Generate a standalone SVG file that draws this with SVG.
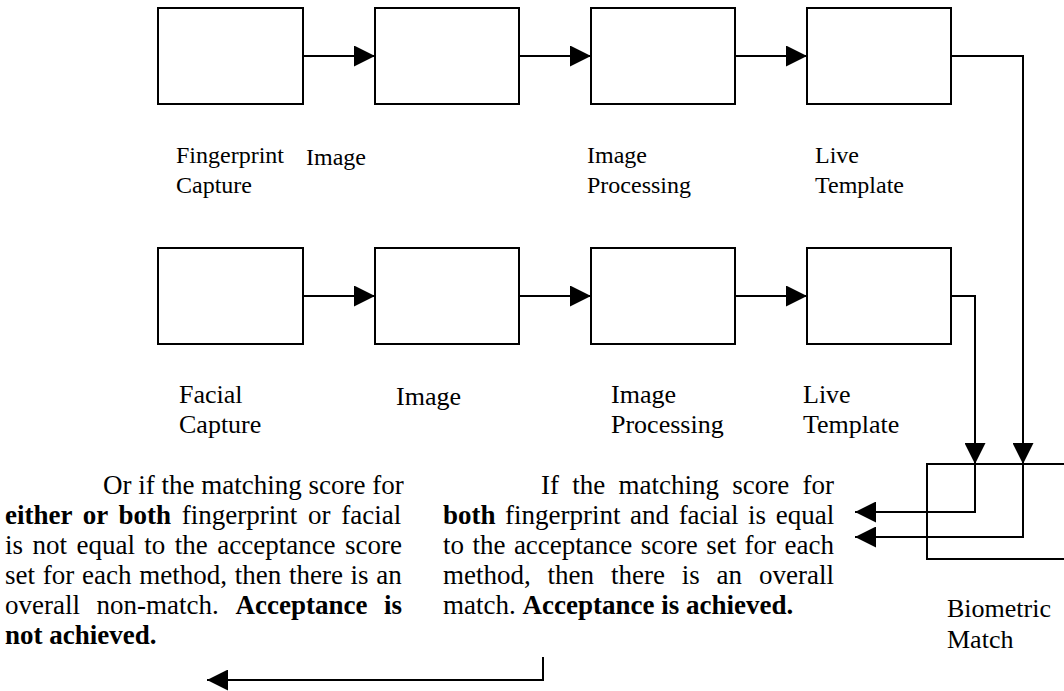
<svg xmlns="http://www.w3.org/2000/svg" width="1064" height="691" viewBox="0 0 1064 691">
<style>
.box{fill:#fff;stroke:#000;stroke-width:2}
.ln{fill:none;stroke:#000;stroke-width:2}
.lb{font-family:"Liberation Serif","Times New Roman",serif;font-size:26px;fill:#000}
.lb1{font-family:"Liberation Serif","Times New Roman",serif;font-size:24px;fill:#000}
.p{font-family:"Liberation Serif","Times New Roman",serif;font-size:27px;fill:#000}
.b{font-weight:bold}
</style>
<defs>
<marker id="ah" markerUnits="userSpaceOnUse" markerWidth="21" markerHeight="21" refX="21" refY="10.5" orient="auto">
<path d="M0,0 L21,10.5 L0,21 z" fill="#000"/>
</marker>
</defs>
<rect x="0" y="0" width="1064" height="691" fill="#fff"/>

<g id="connectors">
<line class="ln" x1="303" y1="56" x2="375" y2="56" marker-end="url(#ah)"/>
<line class="ln" x1="519" y1="56" x2="591" y2="56" marker-end="url(#ah)"/>
<line class="ln" x1="735" y1="56" x2="807" y2="56" marker-end="url(#ah)"/>
<line class="ln" x1="303" y1="296" x2="375" y2="296" marker-end="url(#ah)"/>
<line class="ln" x1="519" y1="296" x2="591" y2="296" marker-end="url(#ah)"/>
<line class="ln" x1="735" y1="296" x2="807" y2="296" marker-end="url(#ah)"/>
<polyline class="ln" points="951,56 1023,56 1023,464" marker-end="url(#ah)"/>
<polyline class="ln" points="951,296 975,296 975,464" marker-end="url(#ah)"/>
<polyline class="ln" points="975,464 975,512 855,512" marker-end="url(#ah)"/>
<polyline class="ln" points="1023,464 1023,537 855,537" marker-end="url(#ah)"/>
<polyline class="ln" points="543,657 543,680 207,680" marker-end="url(#ah)"/>
</g>

<g id="fp-capture"><rect class="box" x="158" y="8" width="145" height="96"/>
<text class="lb1" x="176" y="163">Fingerprint</text><text class="lb1" x="176" y="193">Capture</text></g>
<g id="fp-image"><rect class="box" x="375" y="8" width="144" height="96"/>
<text class="lb1" x="306" y="165">Image</text></g>
<g id="fp-processing"><rect class="box" x="591" y="8" width="144" height="96"/>
<text class="lb1" x="587" y="163">Image</text><text class="lb1" x="587" y="193">Processing</text></g>
<g id="fp-template"><rect class="box" x="807" y="8" width="144" height="96"/>
<text class="lb1" x="815" y="163">Live</text><text class="lb1" x="815" y="193">Template</text></g>

<g id="face-capture"><rect class="box" x="158" y="248" width="145" height="96"/>
<text class="lb" x="179" y="403">Facial</text><text class="lb" x="179" y="433">Capture</text></g>
<g id="face-image"><rect class="box" x="375" y="248" width="144" height="96"/>
<text class="lb" x="396" y="405">Image</text></g>
<g id="face-processing"><rect class="box" x="591" y="248" width="144" height="96"/>
<text class="lb" x="611" y="403">Image</text><text class="lb" x="611" y="433">Processing</text></g>
<g id="face-template"><rect class="box" x="807" y="248" width="144" height="96"/>
<text class="lb" x="803" y="403">Live</text><text class="lb" x="803" y="433">Template</text></g>

<g id="biometric-match"><rect class="box" x="927" y="464" width="150" height="95" style="fill:none"/>
<text class="lb" x="947" y="617">Biometric</text><text class="lb" x="947" y="648">Match</text></g>

<g id="non-match-text">
<text class="p" x="103" y="494">Or if the matching score for</text>
<text class="p" x="5" y="524" style="word-spacing:4px"><tspan class="b">either or both</tspan> fingerprint or facial</text>
<text class="p" x="5" y="554" style="word-spacing:2.7px">is not equal to the acceptance score</text>
<text class="p" x="5" y="584" style="word-spacing:1px">set for each method, then there is an</text>
<text class="p" x="5" y="614" style="word-spacing:9.9px">overall non-match. <tspan class="b">Acceptance is</tspan></text>
<text class="p b" x="5" y="644">not achieved.</text>
</g>

<g id="match-text">
<text class="p" x="541" y="494" style="word-spacing:6.5px">If the matching score for</text>
<text class="p" x="443" y="524" style="word-spacing:2.8px"><tspan class="b">both</tspan> fingerprint and facial is equal</text>
<text class="p" x="443" y="554" style="word-spacing:1.7px">to the acceptance score set for each</text>
<text class="p" x="443" y="584" style="word-spacing:10.1px">method, then there is an overall</text>
<text class="p" x="443" y="614">match.  <tspan class="b">Acceptance is achieved.</tspan></text>
</g>
</svg>
